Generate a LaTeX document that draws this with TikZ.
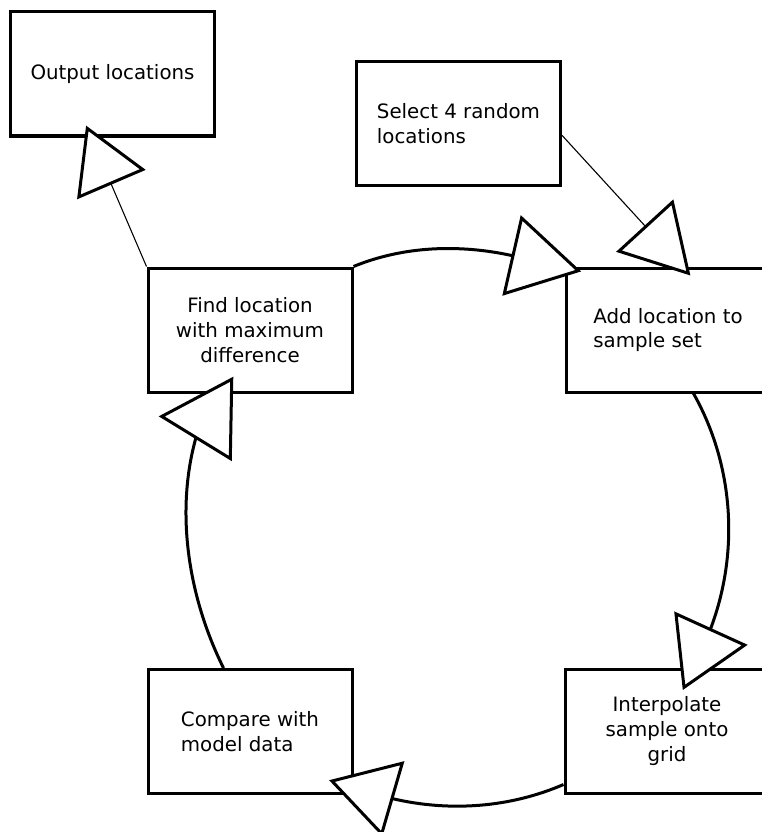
\documentclass[tikz,border=0pt]{standalone}
\usepackage{fontspec}
\setmainfont{DejaVu Sans}
\usetikzlibrary{arrows.meta,calc}
\begin{document}
\begin{tikzpicture}[x=1pt,y=-1pt,
  box/.style={draw, line width=3pt, minimum width=204pt, minimum height=124pt,
    inner sep=0pt, font=\fontsize{19.8pt}{24.8pt}\selectfont},
  thinline/.style={line width=1.1pt},
  thickline/.style={line width=3pt},
]
\clip (0,0) rectangle (762,832);
\fill[white] (0,0) rectangle (762,832);

% boxes
\node[box] (output) at (112.5,74) {Output locations};
\node[box, align=left] (select) at (458.5,123.5) {Select 4 random\\locations};
\node[box, align=left] (add) at (668,330) {Add location to\\sample set};
\node[box, align=center] (find) at (250,330) {Find location\\with maximum\\difference};
\node[box, align=left] (compare) at (250,731.5) {Compare with\\model data};
\node[box, align=center] (interp) at (667,731) {Interpolate\\sample onto\\grid};

% arrow ends
\coordinate (t1) at (86.1,125.6);
\coordinate (t2) at (690.4,275.5);
\coordinate (b3) at (513,255.8);   \coordinate (t3) at (581.2,271.4);
\coordinate (b4) at (710.3,629.5); \coordinate (t4) at (682.8,690);
\coordinate (b5) at (392,798.5);   \coordinate (t5) at (329.1,780.2);
\coordinate (b6) at (196,437.5);   \coordinate (t6) at (233.3,376.7);

% straight connectors
\draw[thinline, -{Triangle[length=64.2pt, width=74pt, fill=white, line width=3pt]}]
  (find.north west) -- (t1);
\draw[thinline, -{Triangle[length=67.7pt, width=77pt, fill=white, line width=3pt]}]
  ($(select.north east)!0.593!(select.south east)$) -- (t2);

% loop connectors
\draw[thickline, -{Triangle[length=71.5pt, width=82pt, fill=white, line width=3pt]}]
  (find.north east) .. controls (403.5,246) and (459.4,243.9) .. (b3) -- (t3);
\draw[thickline, -{Triangle[length=68pt, width=80pt, fill=white, line width=3pt]}]
  ($(add.south west)+(129,0)$) .. controls (733.5,464.5) and (739.9,551.8) .. (b4) -- (t4);
\draw[thickline, -{Triangle[length=67pt, width=78pt, fill=white, line width=3pt]}]
  ($(interp.south west)+(0,-10)$) .. controls (510.3,807.5) and (449.8,812.2) .. (b5) -- (t5);
\draw[thickline, -{Triangle[length=72.8pt, width=85pt, fill=white, line width=3pt]}]
  ($(compare.north west)+(77,0)$) .. controls (189,598.6) and (174.7,513.3) .. (b6) -- (t6);
\end{tikzpicture}
\end{document}
